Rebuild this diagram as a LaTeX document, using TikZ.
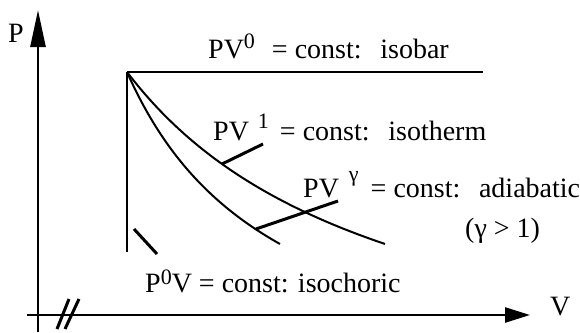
\documentclass[tikz,border=0pt]{standalone}
\usepackage{fontspec}
\setmainfont{Liberation Serif}
\usetikzlibrary{arrows.meta}
\newcommand{\supx}[2][10pt]{\raisebox{#1}{\fontsize{22pt}{22pt}\selectfont #2}}
\begin{document}
\begin{tikzpicture}[x=1pt,y=-1pt,
  axis/.style={line width=2.6pt},
  edge/.style={line width=2.6pt},
  curve/.style={line width=2pt},
  lead/.style={line width=3pt},
  lbl/.style={anchor=base west,inner sep=0pt,font=\fontsize{28pt}{30pt}\selectfont}]
\useasboundingbox (0,0) rectangle (580,332);
% axes
\coordinate (vb) at (38,332);
\coordinate (vt) at (38,10);
\coordinate (hl) at (27,315);
\coordinate (hr) at (530,315);
\draw[axis,-{Triangle[length=37pt,width=15pt]}] (vb) -- (vt);
\draw[axis,-{Triangle[length=25pt,width=15pt]}] (hl) -- (hr);
% break marks
\coordinate (b1a) at (57,329); \coordinate (b1b) at (69,299);
\coordinate (b2a) at (65,329); \coordinate (b2b) at (79,299);
\draw[lead] (b1a) -- (b1b);
\draw[lead] (b2a) -- (b2b);
% labels
\node[lbl] (plab) at (8,42) {P};
\node[lbl] (vlab) at (550,315) {V};
\node[lbl] (isobar) at (208,58) {PV\supx{0}\hspace{17pt}= const:\ \ \,isobar};
\node[lbl] (isotherm) at (213,140) {PV\hspace{9pt}\supx[12pt]{1}\hspace{11pt}= const:\ \ \,isotherm};
\node[lbl] (adiab) at (303,197) {PV\hspace{10pt}\supx[16pt]{γ}\hspace{12pt}= const:\ \ \,adiabatic};
\node[lbl] (gam) at (465,237) {(γ > 1)};
\node[lbl] (isoch) at (145,292) {P\supx[8pt]{0}V = const: isochoric};
% processes
\coordinate (c) at (127,72);
\coordinate (ie) at (483,72);
\coordinate (ib) at (127,252);
\draw[edge] (c) -- (ie);
\draw[edge] (c) -- (ib);
\draw[curve] plot[domain=127:385,samples=60] (\x,{420.6-923.79/((\x+138)/100)});
\draw[curve] plot[domain=127:280,samples=60] (\x,{414.7-520.39/((\x+24.85)/100)});
% leaders
\coordinate (t1a) at (222,164); \coordinate (t1b) at (263,144);
\coordinate (t2a) at (256,229); \coordinate (t2b) at (338,201);
\coordinate (t3a) at (134,229); \coordinate (t3b) at (157,254);
\draw[lead] (t1a) -- (t1b);
\draw[lead] (t2a) -- (t2b);
\draw[lead] (t3a) -- (t3b);
\end{tikzpicture}
\end{document}
